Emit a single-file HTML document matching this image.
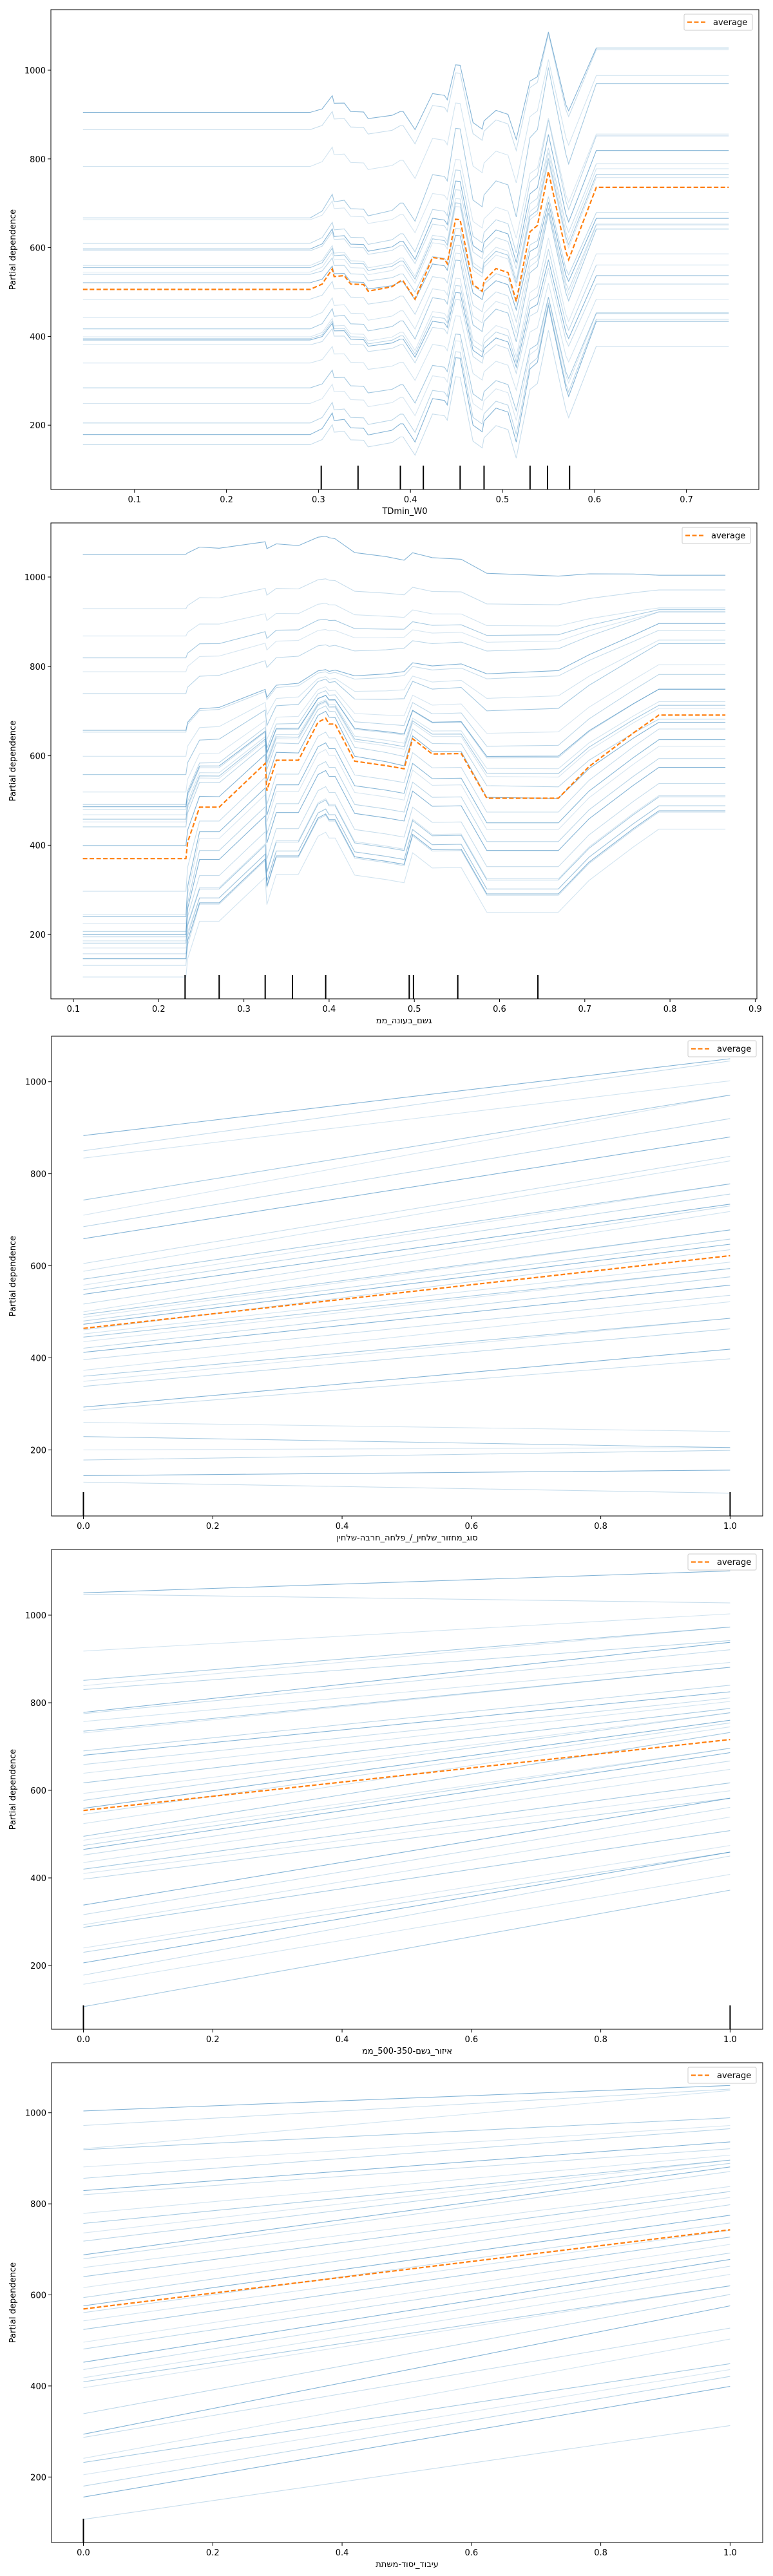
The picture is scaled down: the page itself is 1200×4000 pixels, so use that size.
<!DOCTYPE html>
<html><head><meta charset="utf-8">
<style>
html,body{margin:0;padding:0;background:#fff;}
body{position:relative;width:1200px;height:4000px;overflow:hidden;}
svg{display:block;font-family:"DejaVu Sans","Liberation Sans","Noto Sans CJK SC",sans-serif;}
.xl{position:absolute;font-family:"DejaVu Sans","Liberation Sans","Noto Sans CJK SC",sans-serif;font-size:13px;line-height:16px;white-space:nowrap;transform:translateX(-50%);direction:ltr;unicode-bidi:bidi-override;color:#000;}
</style></head>
<body>
<svg id="fig" width="1200" height="4000" viewBox="0 0 1200 4000" xmlns="http://www.w3.org/2000/svg"></svg>
<script>
// ---------- Panel 1 data: TDmin_W0 ----------
const p1X = [0.044,0.291,0.304,0.315,0.317,0.328,0.335,0.349,0.354,0.380,0.389,0.392,0.405,0.424,0.437,0.440,0.449,0.454,0.468,0.478,0.480,0.493,0.506,0.515,0.530,0.538,0.550,0.569,0.572,0.602,0.746];
const p1Avg = [506,506,518,552,535,537,518,517,502,512,525,525,484,578,574,564,664,663,517,502,525,553,544,479,636,650,772,591,573,736,736];
const p1Mix = [0,0,0.05,0.1,0.1,0.12,0.12,0.12,0.12,0.15,0.2,0.2,0.2,0.35,0.35,0.35,0.6,0.6,0.4,0.4,0.45,0.5,0.5,0.4,0.7,0.75,1,0.8,0.75,1,1];
const p1Starts = [905,866,783,667,663,610,597,593,560,555,545,540,521,484,443,417,399,395,392,381,340,284,249,205,179,156];
const p1Ends = [1050,1046,988,970,856,852,819,789,778,765,758,679,666,653,651,642,586,561,537,518,484,453,451,439,434,378];
const p1Rug = [0.303,0.343,0.389,0.414,0.454,0.480,0.530,0.549,0.573];
const p1Ticks = [0.1,0.2,0.3,0.4,0.5,0.6,0.7];

// ---------- Panel 2 data ----------
const p2X = [0.111,0.232,0.234,0.248,0.271,0.325,0.327,0.338,0.364,0.387,0.396,0.400,0.407,0.430,0.467,0.488,0.498,0.521,0.555,0.585,0.669,0.705,0.757,0.787,0.865];
const p2Avg = [370,370,407,485,485,583,522,590,590,675,684,671,671,588,578,571,638,604,605,505,505,576,651,691,691];
const p2MixJump = [0,0,0.4,1,1,1,1,1,1,1,1,1,1,1,1,1,1,1,1,1,1,1,1,1,1];
const p2MixSlow = [0,0,0.05,0.1,0.12,0.2,0.2,0.25,0.28,0.3,0.3,0.3,0.32,0.4,0.45,0.5,0.5,0.52,0.55,0.6,0.65,0.75,0.9,1,1];
const p2Starts = [1051,929,868,819,788,739,657,653,599,558,519,491,486,480,468,458,452,441,399,297,245,240,225,207,200,195,186,181,170,157,146,131,105];
const p2Ends = [1004,971,931,927,922,896,881,859,851,804,782,749,721,713,706,682,675,660,636,621,594,574,538,511,508,488,477,474,436];
const p2Rug = [0.231,0.271,0.325,0.357,0.396,0.494,0.499,0.551,0.645];
const p2Ticks = [0.1,0.2,0.3,0.4,0.5,0.6,0.7,0.8,0.9];

// ---------- Panels 3-5 data (binary features) ----------
const p3Avg = [464,622];
const p3Starts = [883,850,834,743,710,685,659,605,588,571,558,548,538,517,500,494,488,480,473,461,452,445,435,421,412,396,373,360,349,338,293,286,260,229,200,178,144,130];
const p3Ends = [1050,1045,1002,971,920,880,838,828,778,756,734,730,718,678,658,647,635,608,594,576,558,536,522,486,463,419,398,240,205,199,156,106];
const p3Rug = [0,1];
const p4Avg = [554,716];
const p4Starts = [1051,1048,918,851,839,830,778,775,757,735,731,690,680,659,639,617,593,577,559,545,524,495,486,474,465,452,435,420,410,397,338,316,293,287,240,230,206,178,157,106];
const p4Ends = [1101,1028,1003,973,942,938,921,892,881,840,825,811,803,787,777,760,754,745,732,696,686,667,648,617,599,582,561,539,508,474,459,450,408,372];
const p4Rug = [0,1];
const p5Avg = [569,743];
const p5Starts = [1004,972,921,919,881,856,829,820,779,757,736,718,688,679,660,640,616,594,576,561,543,524,496,481,452,436,418,409,396,339,294,287,241,232,205,180,156,107];
const p5Ends = [1060,1052,1049,989,972,965,936,921,907,896,889,881,871,838,827,814,798,775,758,742,727,711,692,678,663,645,620,601,576,527,503,449,436,421,399,313];
const p5Rug = [0];
const binTicks = [0,0.2,0.4,0.6,0.8,1.0];
const yTicks = [200,400,600,800,1000];

const labels = [
  "TDmin_W0",
  "ממ_הנועב_םשג",
  "ןיחלש-הברח_החלפ_/_ןיחלש_רוזחמ_גוס",
  "ממ_500-350-םשג_רוזיא",
  "תתשמ-דוסי_דוביע"
];

const NS = "http://www.w3.org/2000/svg";
const fig = document.getElementById('fig');
function mk(tag, attrs, parent){
  const e = document.createElementNS(NS, tag);
  for (const k in attrs) e.setAttribute(k, attrs[k]);
  (parent||fig).appendChild(e);
  return e;
}
const opac = [0.55,0.25,0.2,0.4,0.18,0.3];

function panel(idx, cfg){
  const g = mk('g', {});
  
  
  const sx = v => cfg.x0 + cfg.xs * v;
  const sy = v => cfg.y1000 + (1000 - v) * cfg.ys;
  const clip = 'clip' + idx;
  const cp = mk('clipPath', {id: clip}, g);
  mk('rect', {x: cfg.left, y: cfg.top, width: cfg.right - cfg.left, height: cfg.bottom - cfg.top}, cp);
  const lines = mk('g', {'clip-path': 'url(#' + clip + ')'}, g);
  
  
  const nS = cfg.starts.length, nE = cfg.ends.length;
  const a0 = cfg.avg[0], aE = cfg.avg[cfg.avg.length-1];
  for (let i = 0; i < nS; i++){
    const s = cfg.starts[i];
    const e = cfg.ends[Math.round(i * (nE - 1) / (nS - 1))];
    const w = cfg.weightFor ? cfg.weightFor(s) : 1;
    const mixArr = cfg.mixFor ? cfg.mixFor(s) : cfg.mix;
    let pts = [];
    for (let j = 0; j < cfg.xs_.length; j++){
      const mix = mixArr[j];
      const v = s + w * (cfg.avg[j] - a0) + (e - s - w * (aE - a0)) * mix;
      pts.push(sx(cfg.xs_[j]).toFixed(1) + ',' + sy(v).toFixed(1));
    }
    const pl = mk('polyline', {points: pts.join(' '), fill: 'none', stroke: '#1f77b4', 'stroke-width': 1.1, 'stroke-opacity': opac[i % opac.length]}, lines);
    
    
  }
  const ap = cfg.xs_.map((x, j) => sx(x).toFixed(1) + ',' + sy(cfg.avg[j]).toFixed(1)).join(' ');
  const av = mk('polyline', {points: ap, fill: 'none', stroke: '#ff7f0e', 'stroke-width': 2.2, 'stroke-dasharray': '7,3.5'}, lines);
  
  
  cfg.rug.forEach(r => {
    const l = mk('line', {x1: sx(r), x2: sx(r), y1: cfg.bottom - 37, y2: cfg.bottom, stroke: '#000', 'stroke-width': 2}, g);
    
    
  });
  const fr = mk('rect', {x: cfg.left, y: cfg.top, width: cfg.right - cfg.left, height: cfg.bottom - cfg.top, fill: 'none', stroke: '#000', 'stroke-width': 1}, g);
  
  
  cfg.ticks.forEach(t => {
    const x = sx(t);
    mk('line', {x1: x, x2: x, y1: cfg.bottom, y2: cfg.bottom + 5, stroke: '#000', 'stroke-width': 1}, g);
    const tx = mk('text', {x: x, y: cfg.bottom + 20, 'text-anchor': 'middle', 'font-size': 13, fill: '#000'}, g);
    tx.textContent = t.toFixed(1);
    
    
  });
  yTicks.forEach(t => {
    const y = sy(t);
    mk('line', {x1: cfg.left - 5, x2: cfg.left, y1: y, y2: y, stroke: '#000', 'stroke-width': 1}, g);
    const ty = mk('text', {x: cfg.left - 8, y: y + 5, 'text-anchor': 'end', 'font-size': 13, fill: '#000'}, g);
    ty.textContent = String(t);
    
    
  });
  const cy = (cfg.top + cfg.bottom) / 2;
  const yl = mk('text', {x: 24, y: cy, transform: 'rotate(-90 24 ' + cy + ')', 'text-anchor': 'middle', 'font-size': 13, fill: '#000'}, g);
  yl.textContent = 'Partial dependence';
  
  
  // x label as HTML overlay (for reliable bidi-override)
  const xl = document.createElement('div');
  xl.className = 'xl';
  xl.style.left = ((cfg.left + cfg.right) / 2) + 'px';
  xl.style.top = (cfg.bottom + 27) + 'px';
  xl.textContent = labels[idx];
  
  
  document.body.appendChild(xl);
  const lg = mk('g', {}, g);
  
  
  const bx = cfg.right - 116, by = cfg.top + 7;
  mk('rect', {x: bx, y: by, width: 106, height: 25, rx: 2, fill: '#fff', 'fill-opacity': 0.8, stroke: '#ccc', 'stroke-width': 1}, lg);
  mk('line', {x1: bx + 5, x2: bx + 33, y1: by + 12.5, y2: by + 12.5, stroke: '#ff7f0e', 'stroke-width': 2.2, 'stroke-dasharray': '7,3.5'}, lg);
  const lt = mk('text', {x: bx + 45, y: by + 17, 'font-size': 13, fill: '#000'}, lg);
  lt.textContent = 'average';
  
  
}

panel(0, {top: 15, bottom: 760, left: 79, right: 1178, x0: 66, xs: 1428, y1000: 109, ys: 0.689,
  xs_: p1X, avg: p1Avg, mix: p1Mix, starts: p1Starts, ends: p1Ends, rug: p1Rug, ticks: p1Ticks});
panel(1, {top: 812, bottom: 1551, left: 79, right: 1175, x0: -18.3, xs: 1323, y1000: 896, ys: 0.694,
  xs_: p2X, avg: p2Avg, mixFor: s => (s < 300 ? p2MixJump : p2MixSlow),
  weightFor: s => (s < 300 ? 1 : Math.max(0.25, Math.min(1, (760 - s) / 350))),
  starts: p2Starts, ends: p2Ends, rug: p2Rug, ticks: p2Ticks});
panel(2, {top: 1609, bottom: 2354, left: 80, right: 1184, x0: 129.5, xs: 1003.9, y1000: 1679.7, ys: 0.7146,
  xs_: [0, 1], avg: p3Avg, mix: [0, 1], starts: p3Starts, ends: p3Ends, rug: p3Rug, ticks: binTicks});
panel(3, {top: 2406, bottom: 3151, left: 80, right: 1184, x0: 129.5, xs: 1003.9, y1000: 2508, ys: 0.68,
  xs_: [0, 1], avg: p4Avg, mix: [0, 1], starts: p4Starts, ends: p4Ends, rug: p4Rug, ticks: binTicks});
panel(4, {top: 3203, bottom: 3948, left: 80, right: 1184, x0: 129.5, xs: 1003.9, y1000: 3280.7, ys: 0.707,
  xs_: [0, 1], avg: p5Avg, mix: [0, 1], starts: p5Starts, ends: p5Ends, rug: p5Rug, ticks: binTicks});
</script>
</body></html>
